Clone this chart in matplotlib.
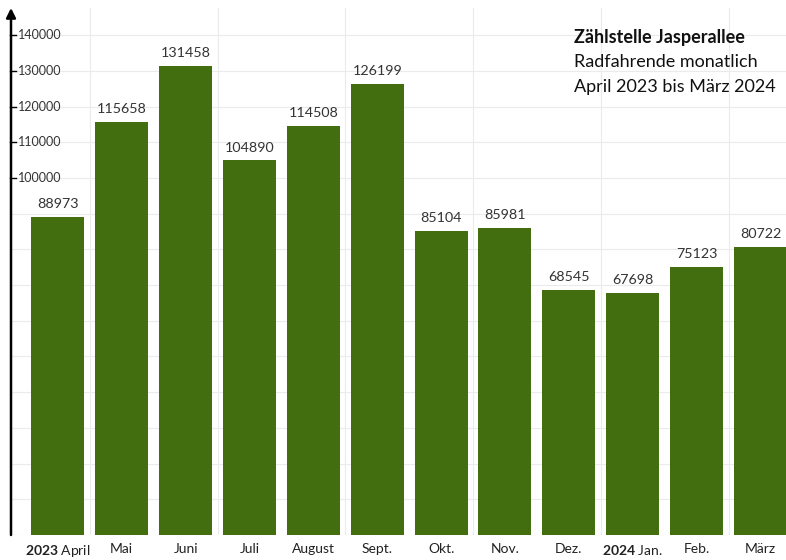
import matplotlib.pyplot as plt
from matplotlib.transforms import blended_transform_factory

plt.rcParams['font.family'] = ['Lato', 'DejaVu Sans']
plt.rcParams['mathtext.fontset'] = 'custom'
plt.rcParams['mathtext.rm'] = 'Lato'
plt.rcParams['mathtext.bf'] = 'Lato:bold'

months = [r'$\bf{2023}$ April', 'Mai', 'Juni', 'Juli', 'August', 'Sept.',
          'Okt.', 'Nov.', 'Dez.', r'$\bf{2024}$ Jan.', 'Feb.', 'März']
counts = [88973, 115658, 131458, 104890, 114508, 126199,
          85104, 85981, 68545, 67698, 75123, 80722]
grid_ticks = list(range(0, 150000, 10000))
labelled_ticks = [100000, 110000, 120000, 130000, 140000]

BAR = '#436e10'

fig = plt.figure(figsize=(7.86, 5.6), dpi=100)
ax = fig.add_axes([11 / 786, 1 - 535 / 560, 775 / 786, 527 / 560])

x = list(range(len(months)))
ax.bar(x, counts, width=0.83, color=BAR, zorder=3)

for i, v in enumerate(counts):
    ax.annotate(str(v), (i, v), xytext=(0, 5), textcoords='offset points',
                ha='center', va='bottom', fontsize=10.3, color='#333333')

ax.set_xlim(-0.735, 11.4)
ax.set_ylim(0, 147600)

# faint sheet grid
for g in grid_ticks:
    ax.axhline(g, color='#ebebeb', lw=0.8, zorder=0)
for b in [0.5, 2.5, 4.5, 6.5, 8.5, 10.5]:
    ax.axvline(b, color='#ebebeb', lw=0.8, zorder=0)

for s in ['top', 'right', 'bottom', 'left']:
    ax.spines[s].set_visible(False)

# y axis with arrow
ax.annotate('', xy=(0, 1.0), xytext=(0, 0.0), xycoords='axes fraction',
            arrowprops=dict(arrowstyle='-|>', color='black', lw=1.8,
                            mutation_scale=14, shrinkA=0, shrinkB=0))

ax.set_yticks([])
trans = blended_transform_factory(ax.transAxes, ax.transData)
for t in labelled_ticks:
    ax.plot([-0.001, 0.006], [t, t], color='black', lw=1, transform=trans,
            clip_on=False)
    ax.text(0.009, t, str(t), transform=trans, ha='left', va='center',
            fontsize=9, color='#333333')

ax.set_xticks(x)
ax.set_xticklabels(months, fontsize=10, color='#222222')
ax.tick_params(axis='x', length=0, pad=6)

fig.text(574 / 786, 1 - 38 / 560, 'Zählstelle Jasperallee', fontsize=13,
         fontweight='bold', ha='left', va='center', color='#111111')
fig.text(574 / 786, 1 - 62 / 560, 'Radfahrende monatlich', fontsize=13,
         ha='left', va='center', color='#111111')
fig.text(574 / 786, 1 - 87 / 560, 'April 2023 bis März 2024', fontsize=13,
         ha='left', va='center', color='#111111')

fig.savefig('out.png', dpi=100)
